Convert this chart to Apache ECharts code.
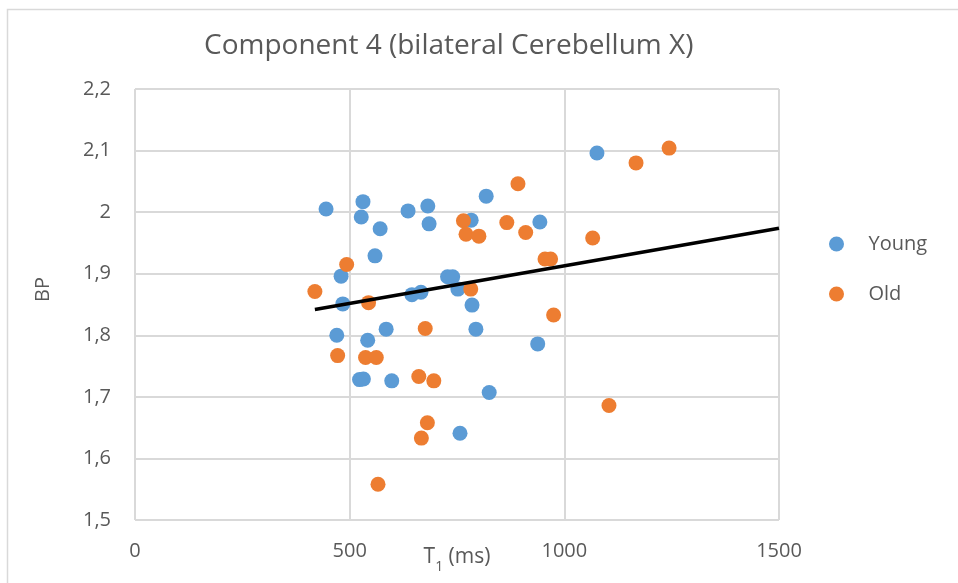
<!DOCTYPE html>
<html>
<head>
<meta charset="utf-8">
<script src="https://cdn.jsdelivr.net/npm/echarts@6/dist/echarts.min.js"></script>
<style>
  html, body { margin: 0; padding: 0; background: #fff; }
  #chart { width: 958px; height: 583px; }
</style>
</head>
<body>
<div id="chart"></div>
<script>
// T1 (ms) and BP for the young group
var youngT1 = [445, 531, 527, 571, 636, 682, 685, 783, 818, 943, 1076, 559, 480, 484, 728, 740, 752, 645, 666, 785, 470, 542, 585, 794, 938, 523, 532, 598, 825, 757];
var youngBP = [2.005, 2.017, 1.992, 1.973, 2.002, 2.010, 1.981, 1.987, 2.026, 1.984, 2.096, 1.929, 1.896, 1.851, 1.895, 1.895, 1.875, 1.866, 1.870, 1.849, 1.800, 1.792, 1.810, 1.810, 1.786, 1.728, 1.729, 1.726, 1.707, 1.641];

// T1 (ms) and BP for the old group
var oldT1 = [1244, 1167, 892, 765, 771, 801, 866, 910, 955, 968, 1066, 493, 419, 544, 782, 975, 676, 472, 537, 562, 661, 696, 681, 667, 566, 1104];
var oldBP = [2.104, 2.080, 2.046, 1.986, 1.964, 1.961, 1.983, 1.967, 1.924, 1.924, 1.958, 1.915, 1.871, 1.853, 1.875, 1.833, 1.811, 1.767, 1.764, 1.764, 1.733, 1.726, 1.658, 1.633, 1.558, 1.686];

// Linear trend line end points
var trendT1 = [419, 1500];
var trendBP = [1.842, 1.974];

var seriesNames = ['Young', 'Old'];
var titleText = 'Component 4 (bilateral Cerebellum X)';

function pairs(xs, ys) {
  return xs.map(function (x, i) { return [x, ys[i]]; });
}

// Decimal comma, trailing zero dropped (2,1 / 2 / 1,9)
function commaNumber(v) {
  return String(Math.round(v * 10) / 10).replace('.', ',');
}

var FONT = 'Open Sans';
var TEXT = '#595959';
var GRID = '#d9d9d9';

var chart = echarts.init(document.getElementById('chart'), null, { renderer: 'canvas' });
chart.setOption({
  backgroundColor: '#ffffff',
  animation: false,
  graphic: [{
    type: 'rect',
    shape: { x: 7.5, y: 9.5, width: 1000, height: 700 },
    style: { fill: 'none', stroke: GRID, lineWidth: 1.5 },
    silent: true
  }],
  title: {
    text: titleText,
    left: 204,
    top: 32,
    padding: 0,
    textStyle: { fontFamily: FONT, fontSize: 28, fontWeight: 'normal', color: TEXT }
  },
  legend: {
    data: seriesNames,
    orient: 'vertical',
    left: 829,
    top: 234,
    padding: 0,
    itemWidth: 54,
    itemHeight: 15,
    itemGap: 30,
    icon: 'circle',
    textStyle: { fontFamily: FONT, fontSize: 20, color: TEXT }
  },
  grid: { left: 135, right: 179, top: 89, bottom: 63, containLabel: false, outerBoundsMode: 'none' },
  xAxis: {
    type: 'value',
    min: 0, max: 1500, interval: 500,
    name: '{a|T}{s|1}{a| (ms)}',
    nameLocation: 'middle',
    nameGap: 22,
    nameMoveOverlap: false,
    nameTextStyle: {
      rich: {
        a: { fontFamily: FONT, fontSize: 21, color: TEXT, verticalAlign: 'bottom', lineHeight: 26 },
        s: { fontFamily: FONT, fontSize: 14, color: TEXT, verticalAlign: 'bottom', lineHeight: 26, padding: [0, 0, -6, 0] }
      }
    },
    axisLine: { show: false },
    axisTick: { show: false },
    axisLabel: {
      margin: 21, fontFamily: FONT, fontSize: 20, color: TEXT,
      formatter: function (v) { return String(v); }
    },
    splitLine: { show: true, lineStyle: { color: GRID, width: 2 } }
  },
  yAxis: {
    type: 'value',
    min: 1.5, max: 2.2, interval: 0.1,
    name: 'BP',
    nameLocation: 'middle',
    nameGap: 82,
    nameMoveOverlap: false,
    nameTextStyle: { fontFamily: FONT, fontSize: 20, color: TEXT, padding: [0, 0, 0, 30] },
    axisLine: { show: false },
    axisTick: { show: false },
    axisLabel: {
      margin: 24, fontFamily: FONT, fontSize: 20, color: TEXT,
      formatter: commaNumber
    },
    splitLine: { show: true, lineStyle: { color: GRID, width: 2 } }
  },
  series: [
    {
      name: seriesNames[0], type: 'scatter', symbol: 'circle', symbolSize: 15,
      itemStyle: { color: '#5b9bd5', opacity: 1 },
      data: pairs(youngT1, youngBP), z: 2
    },
    {
      name: seriesNames[1], type: 'scatter', symbol: 'circle', symbolSize: 15,
      itemStyle: { color: '#ed7d31', opacity: 1 },
      data: pairs(oldT1, oldBP), z: 3
    },
    {
      name: 'trend', type: 'line', showSymbol: false, symbol: 'none',
      lineStyle: { color: '#000000', width: 3.5 },
      data: pairs(trendT1, trendBP), z: 4, silent: true
    }
  ]
});
</script>
</body>
</html>
